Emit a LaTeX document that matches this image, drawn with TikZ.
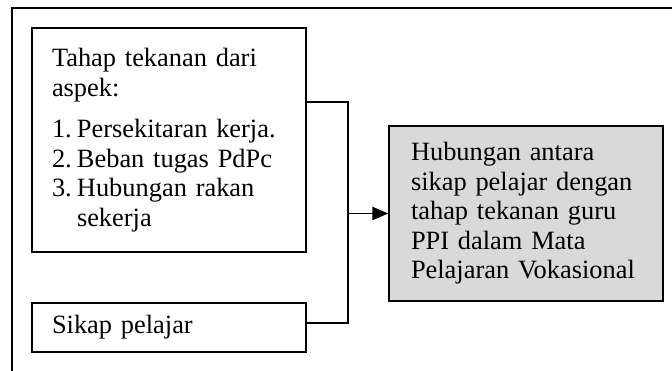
\documentclass[tikz,border=0pt]{standalone}
\usepackage{fontspec}
\setmainfont{Liberation Serif}
\usetikzlibrary{arrows.meta}
\usepackage{xcolor}
\definecolor{boxgrey}{RGB}{217,217,217}

\newcommand{\itemno}[1]{\makebox[18.75pt][l]{#1}}

\begin{document}
\begin{tikzpicture}[x=0.75pt,y=0.75pt,yscale=-1,xscale=1,
  kotak/.style={draw, line width=1.1pt, minimum width=205.5pt, align=left,
    font=\fontsize{19.8}{22.1}\selectfont},
  garis/.style={line width=1.1pt}]
\useasboundingbox (0,0) rectangle (672,371);

%Page frame
\draw [garis]   (12,371) -- (12,8) -- (672,8) ;

%Boxes
\node [kotak, inner xsep=15pt, text width=175.5pt, minimum height=168pt] (tahap) at (169,140)
  {Tahap tekanan dari\\
   aspek:\\[9pt]
   \itemno{1.}Persekitaran kerja.\\
   \itemno{2.}Beban tugas PdPc\\
   \itemno{3.}Hubungan rakan\\
   \hspace*{18.75pt}sekerja};
\node [kotak, inner xsep=15pt, text width=175.5pt, minimum height=36.75pt] (sikap) at (169,327.5)
  {Sikap pelajar};
\node [kotak, fill=boxgrey, inner xsep=16.5pt, text width=172.5pt, minimum height=131.25pt] (hubungan) at (526,213.5)
  {Hubungan antara\\
   sikap pelajar dengan\\
   tahap tekanan guru\\
   PPI dalam Mata\\
   Pelajaran Vokasional};

%Connectors
\coordinate (sambung) at (348,102);
\coordinate (bawah) at (348,323);
\draw [garis]   (tahap.east |- sambung) -- (sambung) -- (bawah) -- (sikap.east |- bawah) ;
\draw [garis, -{Triangle[length=12pt,width=10pt]}]   (sambung |- hubungan.west) -- (hubungan.west) ;
\end{tikzpicture}
\end{document}
